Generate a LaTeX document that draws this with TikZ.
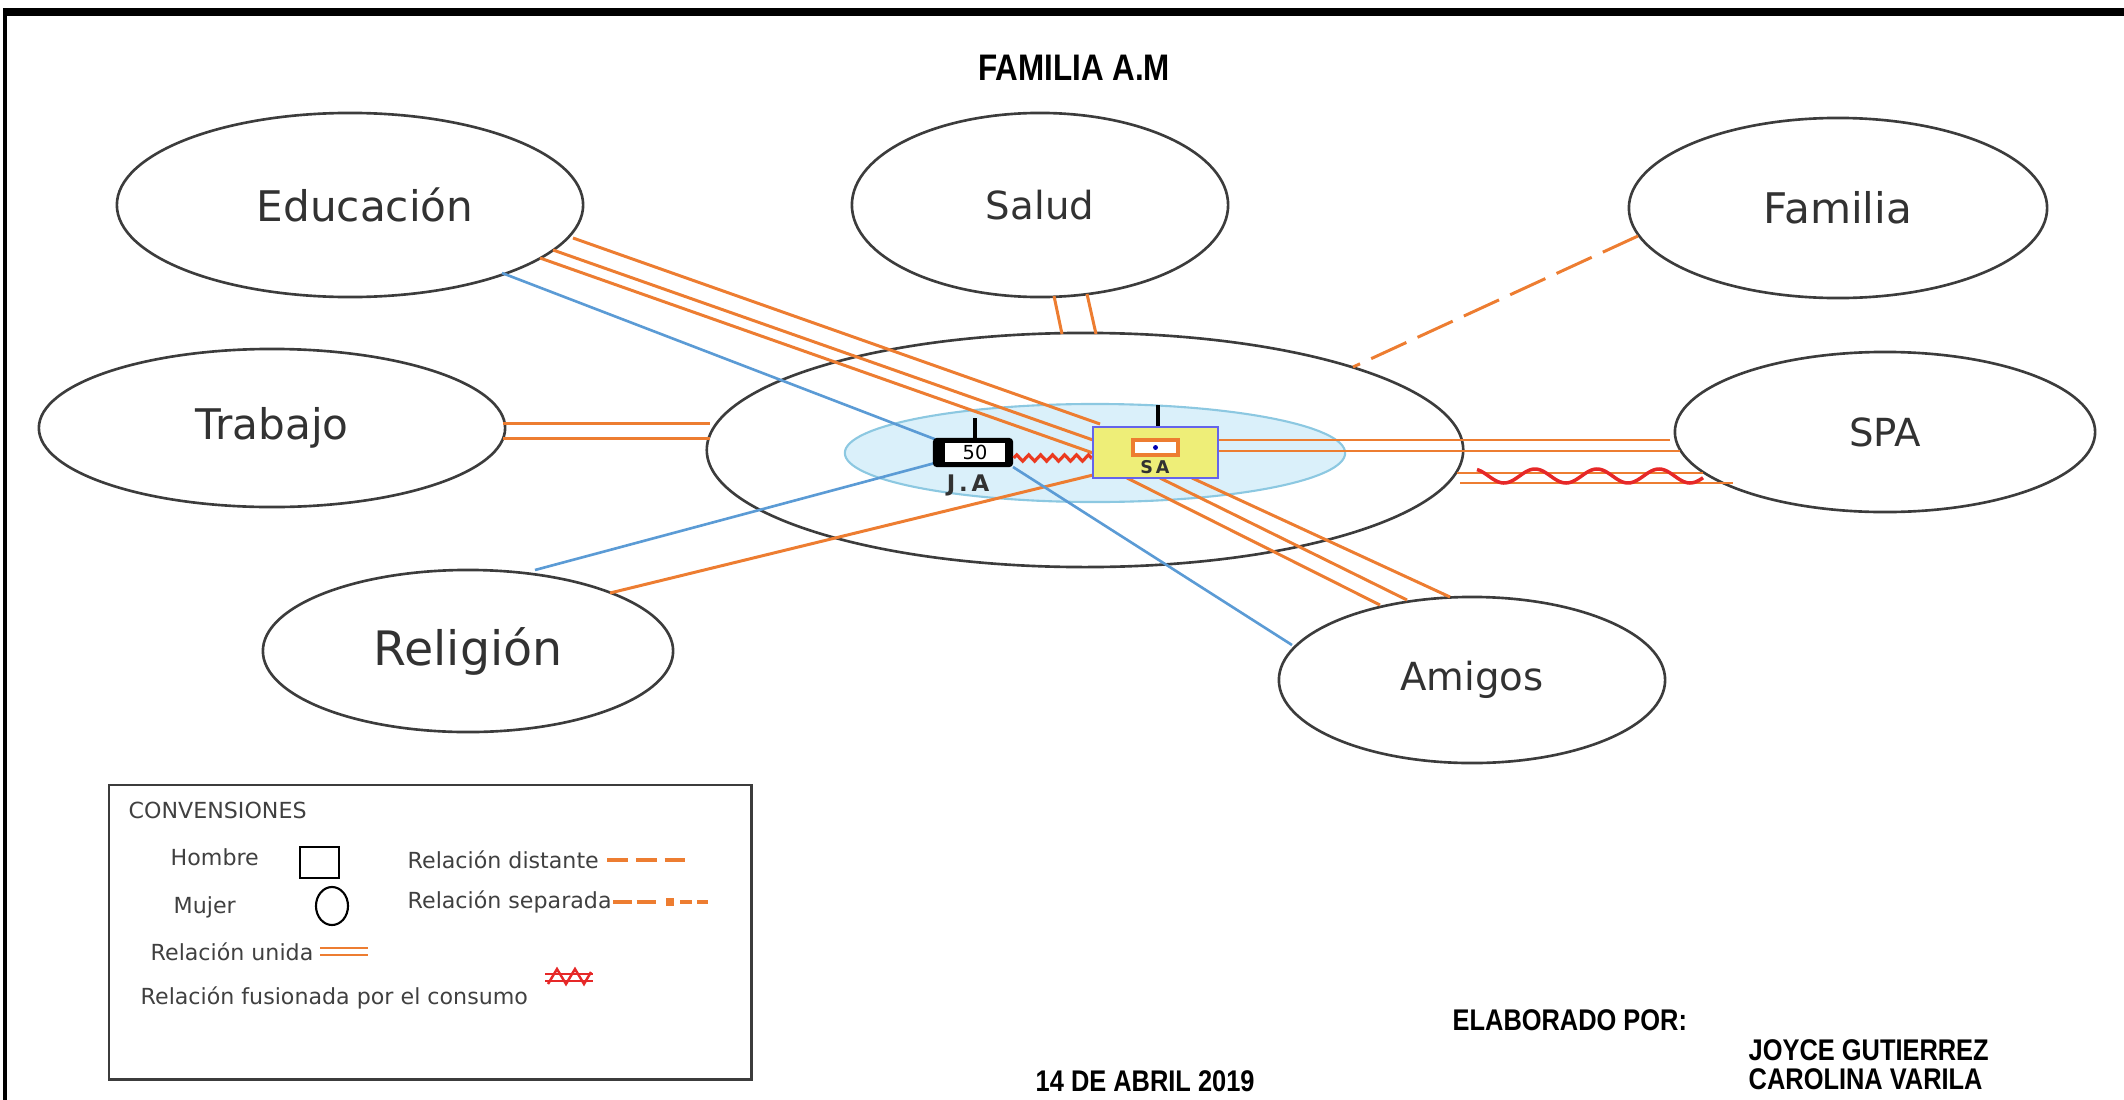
\documentclass[tikz,border=0pt]{standalone}
\usepackage{fontspec}
\usepackage{graphicx}
\setmainfont{DejaVu Sans}
\newfontfamily\arialf{Liberation Sans}
\usetikzlibrary{shapes.geometric,decorations.pathmorphing}
\definecolor{lor}{RGB}{237,125,49}
\definecolor{lbl}{RGB}{91,155,213}
\definecolor{egray}{RGB}{60,60,60}
\definecolor{tgray}{RGB}{50,50,50}
\definecolor{lgtxt}{RGB}{64,64,64}
\definecolor{famfill}{RGB}{218,240,250}
\definecolor{famdraw}{RGB}{140,200,225}
\definecolor{saf}{RGB}{238,238,120}
\definecolor{sab}{RGB}{100,100,235}
\definecolor{zred}{RGB}{230,40,40}
\newcommand\bt{\arialf\bfseries\fontsize{8.5}{10}\selectfont}
\newcommand\bttitle{\arialf\bfseries\fontsize{10.5}{12}\selectfont}
\newcommand\nar[1]{\scalebox{0.85}[1]{#1}}
\begin{document}
\begin{tikzpicture}[x=0.01cm,y=-0.01cm,
  ell/.style={ellipse,draw=egray,line width=0.75pt,inner sep=0pt,text=tgray,font=\fontsize{12}{14}\selectfont},
  uni/.style={draw=lor,line width=0.85pt},
  blu/.style={draw=lbl,line width=0.75pt},
  dist/.style={draw=lor,line width=0.85pt,dash pattern=on 11pt off 3.5pt},
  bold/.style={inner sep=0pt,font=\bt},
  lg/.style={anchor=west,inner sep=0pt,text=lgtxt,font=\fontsize{6.3}{7.5}\selectfont},
]
\useasboundingbox (0,0) rectangle (2124,1100);
% frame
\draw[line width=2.3pt] (3,12) -- (2124,12);
\draw[line width=1.1pt] (5,8) -- (5,1100);

\node[inner sep=0pt,font=\bttitle] (title) at (1074,68) {\nar{FAMILIA A.M}};

% ellipses
\node[ell,minimum width=4.66cm,minimum height=1.84cm] (edu) at (350,205) {\hspace*{0.3cm}Educación};
\node[ell,minimum width=3.76cm,minimum height=1.84cm,font=\fontsize{11}{13}\selectfont] (salud) at (1040,205) {Salud};
\node[ell,minimum width=4.18cm,minimum height=1.80cm] (fam) at (1838,208) {Familia};
\node[ell,minimum width=4.66cm,minimum height=1.58cm] (trab) at (272,428) {Trabajo};
\node[ell,minimum width=7.56cm,minimum height=2.34cm] (centro) at (1085,450) {};
\node[ell,minimum width=4.20cm,minimum height=1.60cm,font=\fontsize{11}{13}\selectfont] (spa) at (1885,432) {SPA};
\node[ell,minimum width=4.10cm,minimum height=1.62cm,font=\fontsize{13.5}{15}\selectfont] (rel) at (468,651) {Religión};
\node[ell,minimum width=3.86cm,minimum height=1.66cm,font=\fontsize{11}{13}\selectfont] (ami) at (1472,680) {Amigos};

% family circle
\node[ellipse,fill=famfill,draw=famdraw,line width=0.6pt,minimum width=5.0cm,minimum height=0.98cm,inner sep=0pt] (hogar) at (1095,453) {};

% endpoints
\coordinate (e1s) at (573,238); \coordinate (e1e) at (1100,424);
\coordinate (e2s) at (553,250); \coordinate (e2e) at (1093,440);
\coordinate (e3s) at (540,258); \coordinate (e3e) at (1093,453);
\coordinate (ebs) at (502,273); \coordinate (ebe) at (937,440);
\coordinate (rbs) at (535,570); \coordinate (rbe) at (935,463);
\coordinate (ros) at (610,593); \coordinate (roe) at (1093,475);
\coordinate (abs) at (1013,467); \coordinate (abe) at (1292,645);
\coordinate (a1s) at (1127,478); \coordinate (a1e) at (1380,605);
\coordinate (a2s) at (1160,478); \coordinate (a2e) at (1407,600);
\coordinate (a3s) at (1192,478); \coordinate (a3e) at (1450,597);
\coordinate (t1s) at (503,423); \coordinate (t1e) at (710,423);
\coordinate (t2s) at (503,438); \coordinate (t2e) at (710,438);
\coordinate (s1s) at (1054,296); \coordinate (s1e) at (1062,334);
\coordinate (s2s) at (1087,294); \coordinate (s2e) at (1096,334);
\coordinate (fs) at (1638,236); \coordinate (fe) at (1353,367);
\coordinate (p1s) at (1218,440); \coordinate (p1e) at (1670,440);
\coordinate (p2s) at (1218,451); \coordinate (p2e) at (1680,451);
\coordinate (q1s) at (1457,473); \coordinate (q1e) at (1703,473);
\coordinate (q2s) at (1460,483); \coordinate (q2e) at (1733,483);

% connectors
\draw[uni] (e1s) -- (e1e);
\draw[uni] (e2s) -- (e2e);
\draw[uni] (e3s) -- (e3e);
\draw[blu] (ebs) -- (ebe);
\draw[blu] (rbs) -- (rbe);
\draw[uni] (ros) -- (roe);
\draw[blu] (abs) -- (abe);
\draw[uni] (a1s) -- (a1e);
\draw[uni] (a2s) -- (a2e);
\draw[uni] (a3s) -- (a3e);
\draw[uni] (t1s) -- (t1e);
\draw[uni] (t2s) -- (t2e);
\draw[uni] (s1s) -- (s1e);
\draw[uni] (s2s) -- (s2e);
\draw[dist] (fs) -- (fe);
\draw[uni,line width=0.7pt] (p1s) -- (p1e);
\draw[uni,line width=0.7pt] (p2s) -- (p2e);
\draw[uni,line width=0.7pt] (q1s) -- (q1e);
\draw[uni,line width=0.7pt] (q2s) -- (q2e);
\draw[zred,line width=1pt] plot[domain=1477:1703,samples=120,smooth] (\x,{476-7*cos(5.806*(\x-1473))});

% J.A
\draw[line width=1pt] (975,418) -- (975,438);
\node[fill=black,rounded corners=1pt,minimum width=0.80cm,minimum height=0.29cm,inner sep=0pt] (ja) at (973,452.5) {};
\node[fill=white,minimum width=0.60cm,minimum height=0.19cm,inner sep=0pt,font=\fontsize{5.5}{6}\selectfont] (jain) at (975,452.5) {50};
\node[inner sep=0pt,font=\bfseries\fontsize{6.5}{7}\selectfont,text=tgray] (jalab) at (968,485) {J\,.\,A};
% S.A
\draw[line width=1pt] (1158,405) -- (1158,427);
\node[fill=saf,draw=sab,line width=0.8pt,minimum width=1.25cm,minimum height=0.51cm,inner sep=0pt] (sa) at (1155.5,452.5) {};
\node[fill=white,draw=lor,line width=0.9pt,minimum width=0.45cm,minimum height=0.15cm,inner sep=0pt] (sain) at (1155.5,447.5) {};
\fill[blue!70!black] (1155.5,447.5) circle (0.7pt);
\node[inner sep=0pt,font=\bfseries\fontsize{5}{6}\selectfont,text=tgray] (salab) at (1155,467) {S\,A};
\draw[zred!80!orange,line width=0.9pt,decorate,decoration={zigzag,amplitude=0.9pt,segment length=3.4pt}] (ja.east |- 0,458) -- (sa.west |- 0,458);

% legend
\node[draw=egray,line width=0.7pt,minimum width=6.42cm,minimum height=2.94cm,inner sep=0pt,anchor=north west] (leg) at (108,784) {};
\node[lg] (lgt) at (128,810) {CONVENSIONES};
\node[lg] (lgh) at (170,857) {Hombre};
\node[draw=black,line width=0.6pt,minimum width=0.39cm,minimum height=0.31cm,inner sep=0pt] (lghs) at (319.5,862.5) {};
\node[lg] (lgm) at (173,907) {Mujer};
\node[ellipse,draw=black,line width=0.6pt,minimum width=0.32cm,minimum height=0.38cm,inner sep=0pt] (lgms) at (332,906) {};
\node[lg] (lgu) at (150,952) {Relación unida};
\draw[draw=lor,line width=0.6pt] (320,948) -- (368,948);
\draw[draw=lor,line width=0.6pt] (320,955) -- (368,955);
\node[lg] (lgf) at (140,998) {Relación fusionada por el consumo};
\draw[draw=zred,line width=0.5pt] (545,974) -- (593,974);
\draw[draw=zred,line width=0.5pt] (545,981) -- (593,981);
\draw[zred,line width=0.7pt] (548,984) -- (557,969) -- (566,984) -- (575,969) -- (584,984) -- (591,972);
\node[lg] (lgd) at (407,860) {Relación distante};
\draw[draw=lor,line width=0.9pt,dash pattern=on 6pt off 2.2pt] (607,860) -- (685,860);
\node[lg] (lgs) at (407,902) {Relación separada};
\draw[draw=lor,line width=0.9pt,dash pattern=on 5.5pt off 1.2pt] (613,902) -- (660,902);
\fill[lor] (666,898) rectangle (674,906);
\draw[draw=lor,line width=0.9pt,dash pattern=on 3.5pt off 1.3pt] (680,902) -- (708,902);

% bottom texts
\node[bold,anchor=west] (elab) at (1452,1020) {\nar{ELABORADO POR:}};
\node[bold,anchor=west] (joyce) at (1748,1050) {\nar{JOYCE GUTIERREZ}};
\node[bold,anchor=west] (caro) at (1748,1079) {\nar{CAROLINA VARILA}};
\node[bold,anchor=west] (fecha) at (1035,1081) {\nar{14 DE ABRIL 2019}};
\end{tikzpicture}
\end{document}
